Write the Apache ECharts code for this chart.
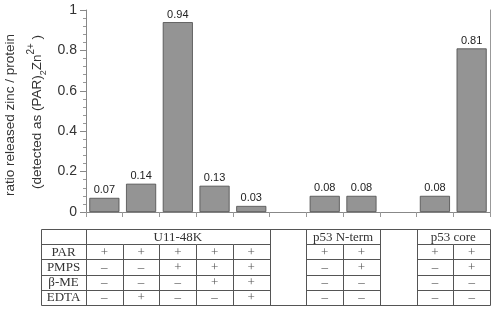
<!DOCTYPE html>
<html>
<head>
<meta charset="utf-8">
<script src="https://cdn.jsdelivr.net/npm/echarts@6/dist/echarts.min.js"></script>
<style>
html, body { margin: 0; background: #fff; }
#chart { width: 495px; height: 310px; }
</style>
</head>
<body>
<div id="chart"></div>
<script>
// lanes (table columns); 'gap' lanes are empty spacer columns
const lanes = ['u1', 'u2', 'u3', 'u4', 'u5', 'gap1', 'n1', 'n2', 'gap2', 'c1', 'c2'];
const ratio = [0.07, 0.14, 0.94, 0.13, 0.03, null, 0.08, 0.08, null, 0.08, 0.81];

const rowLabels = ['PAR', 'PMPS', 'β-ME', 'EDTA'];
const par  = ['+', '+', '+', '+', '+', '', '+', '+', '', '+', '+'];
const pmps = ['–', '–', '+', '+', '+', '', '–', '+', '', '–', '+'];
const bme  = ['–', '–', '–', '+', '+', '', '–', '–', '', '–', '–'];
const edta = ['–', '+', '–', '–', '+', '', '–', '–', '', '–', '–'];

const groupNames = ['U11-48K', 'p53 N-term', 'p53 core'];
const groupFirst = [0, 6, 9];
const groupLast  = [4, 7, 10];

const yTicks = [0, 0.2, 0.4, 0.6, 0.8, 1];

const isGap = i => lanes[i].indexOf('gap') === 0;

let option = {
  animation: false,
  grid: { left: 86, right: 5, top: 10, bottom: 98 },
  xAxis: {
    type: 'category',
    data: lanes,
    axisLine: { lineStyle: { color: '#888', width: 1 } },
    axisTick: { show: true, interval: 0, length: 5, lineStyle: { color: '#999' } },
    axisLabel: { show: false }
  },
  yAxis: [
    {
      type: 'value',
      min: yTicks[0],
      max: yTicks[yTicks.length - 1],
      interval: 0.2,
      axisLine: { show: true, lineStyle: { color: '#888' } },
      axisTick: { show: true, length: 6, lineStyle: { color: '#888' } },
      minorTick: { show: true, splitNumber: 5, length: 3, lineStyle: { color: '#999' } },
      splitLine: { show: false },
      axisLabel: { margin: 9, fontSize: 14, color: '#333', fontFamily: 'Liberation Sans' }
    },
    {
      type: 'value',
      position: 'right',
      min: 0,
      max: 1,
      axisLine: { show: true, lineStyle: { color: '#999' } },
      axisTick: { show: false },
      axisLabel: { show: false },
      splitLine: { show: false }
    }
  ],
  series: [
    {
      type: 'bar',
      data: ratio,
      barCategoryGap: '18%',
      itemStyle: { color: '#949494', borderColor: '#4a4a4a', borderWidth: 0.8 },
      label: {
        show: true,
        position: 'top',
        distance: 2,
        fontSize: 11,
        color: '#222',
        fontFamily: 'Liberation Sans'
      }
    }
  ]
};

const chart = echarts.init(document.getElementById('chart'));
chart.setOption(option);

// table under the chart, columns aligned to the category axis
const px = i => chart.convertToPixel({ xAxisIndex: 0 }, i);
const half = (px(1) - px(0)) / 2;
const tLeft = 41, tTop = 229, rowH = 15.2;
const tBottom = tTop + rowH * 5;
const xL = px(0) - half;
const xR = px(lanes.length - 1) + half;
const crisp = v => Math.round(v) + 0.5;
const els = [];

function line(x1, y1, x2, y2) {
  els.push({ type: 'line', silent: true,
    shape: { x1: crisp(x1), y1: crisp(y1), x2: crisp(x2), y2: crisp(y2) },
    style: { stroke: '#555', lineWidth: 1 } });
}
function text(x, y, s, col) {
  els.push({ type: 'text', silent: true, x: x, y: y,
    style: { text: s, font: '13px "Liberation Serif"', fill: col || '#333', align: 'center', verticalAlign: 'middle' } });
}

line(tLeft, tTop, xR, tTop);
line(tLeft, tBottom, xR, tBottom);
line(tLeft, tTop, tLeft, tBottom);
line(xL, tTop, xL, tBottom);
line(xR, tTop, xR, tBottom);
for (let i = 0; i < lanes.length - 1; i++) {
  const b = px(i) + half;
  const full = isGap(i) || isGap(i + 1);
  line(b, full ? tTop : tTop + rowH, b, tBottom);
}
for (let j = 1; j < 5; j++) {
  const y = tTop + j * rowH;
  line(tLeft, y, xL, y);
  for (let i = 0; i < lanes.length; i++) {
    if (!isGap(i)) line(px(i) - half, y, px(i) + half, y);
  }
}
groupNames.forEach((g, k) => {
  text((px(groupFirst[k]) + px(groupLast[k])) / 2, tTop + rowH / 2 + 0.5, g);
});
const rows = [par, pmps, bme, edta];
rows.forEach((r, j) => {
  const y = tTop + (j + 1.5) * rowH + 0.5;
  text((tLeft + xL) / 2, y, rowLabels[j]);
  r.forEach((s, i) => { if (s) text(px(i), y, s, '#555'); });
});

// y axis title, two rotated lines
els.push({ type: 'text', silent: true, x: 10, y: 115, rotation: Math.PI / 2,
  style: { text: 'ratio released zinc / protein', font: '13.5px "Liberation Sans"', fill: '#333',
    align: 'center', verticalAlign: 'middle' } });
els.push({ type: 'text', silent: true, x: 37, y: 112, rotation: Math.PI / 2,
  style: { text: '(detected as (PAR){sub|2}Zn{sup|2+} )', font: '13.5px "Liberation Sans"', fill: '#333',
    align: 'center', verticalAlign: 'middle',
    rich: {
      sub: { fontSize: 9, fontFamily: 'Liberation Sans', fill: '#333', verticalAlign: 'bottom', lineHeight: 22 },
      sup: { fontSize: 10, fontFamily: 'Liberation Sans', fill: '#333', verticalAlign: 'top', lineHeight: 22 }
    } } });

chart.setOption({ graphic: els });
</script>
</body>
</html>
